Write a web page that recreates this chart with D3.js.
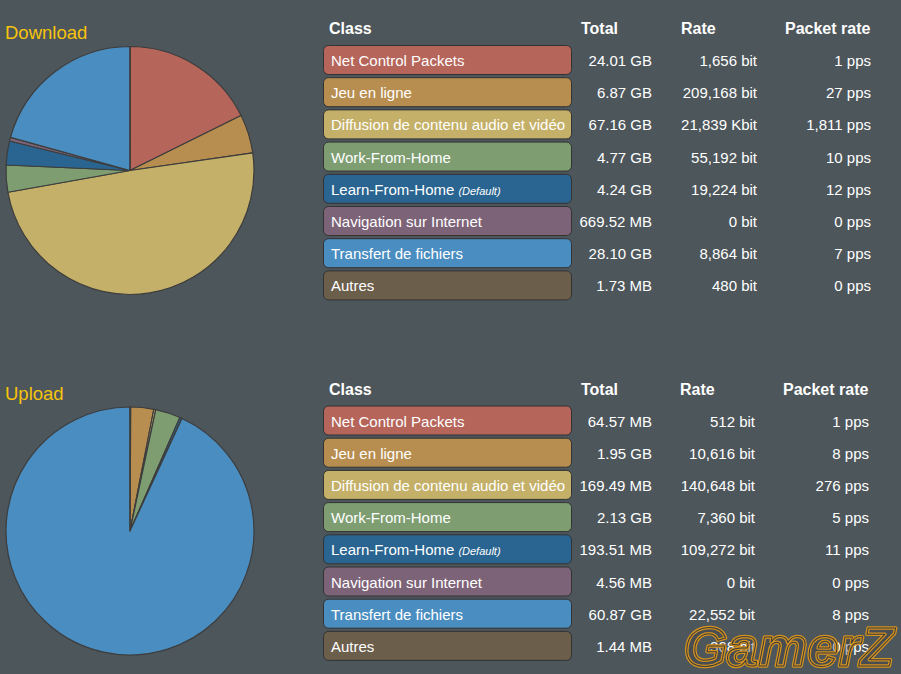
<!DOCTYPE html>
<html><head><meta charset="utf-8">
<script src="https://cdn.jsdelivr.net/npm/d3@7"></script>
<style>html,body{margin:0;padding:0;background:#4d565b;overflow:hidden}svg{display:block;font-family:"Liberation Sans",Arial,sans-serif}</style>
</head><body>
<script>
const classes = ["Net Control Packets","Jeu en ligne","Diffusion de contenu audio et vidéo","Work-From-Home","Learn-From-Home","Navigation sur Internet","Transfert de fichiers","Autres"];
const colors = ["#b5655a","#b88e50","#c4b068","#7e9e72","#2a6591","#7d6378","#4a8dc0","#6b5e4b"];
const defaultClass = "Learn-From-Home";
const headers = ["Class","Total","Rate","Packet rate"];

const downloadTotal = ["24.01 GB","6.87 GB","67.16 GB","4.77 GB","4.24 GB","669.52 MB","28.10 GB","1.73 MB"];
const downloadRate = ["1,656 bit","209,168 bit","21,839 Kbit","55,192 bit","19,224 bit","0 bit","8,864 bit","480 bit"];
const downloadPps = ["1 pps","27 pps","1,811 pps","10 pps","12 pps","0 pps","7 pps","0 pps"];

const uploadTotal = ["64.57 MB","1.95 GB","169.49 MB","2.13 GB","193.51 MB","4.56 MB","60.87 GB","1.44 MB"];
const uploadRate = ["512 bit","10,616 bit","140,648 bit","7,360 bit","109,272 bit","0 bit","22,552 bit","368 bit"];
const uploadPps = ["1 pps","8 pps","276 pps","5 pps","11 pps","0 pps","8 pps","0 pps"];

const unitMul = {KB:1/1048576, MB:1/1024, GB:1, TB:1024};
function toGB(s){const [n,u]=s.split(" ");return parseFloat(n.replace(/,/g,""))*unitMul[u];}

const W=901,H=674;
const svg=d3.select("body").append("svg").attr("width",W).attr("height",H);
svg.append("rect").attr("width",W).attr("height",H).attr("fill","#4d565b");

const sections=[
 {title:"Download", off:0, total:downloadTotal, rate:downloadRate, pps:downloadPps, cols:[329,581,681,785], ends:[652,757,871]},
 {title:"Upload", off:360.5, total:uploadTotal, rate:uploadRate, pps:uploadPps, cols:[329,581,680,783], ends:[652,755,869]}
];

const rowY=d3.scaleLinear().domain([0,1]).range([45,77.2]);

sections.forEach(sec=>{
  const g=svg.append("g").attr("transform",`translate(0,${sec.off})`);
  g.append("text").attr("x",5).attr("y",39).attr("fill","#f7c40a").attr("font-size",18.5).text(sec.title);

  const data=classes.map((c,i)=>({name:c,color:colors[i],v:toGB(sec.total[i]),total:sec.total[i],rate:sec.rate[i],pps:sec.pps[i],i}));
  const pie=d3.pie().sort(null).value(d=>d.v);
  const arc=d3.arc().innerRadius(0).outerRadius(124);
  const pg=g.append("g").attr("transform","translate(130,170.5)");
  pg.selectAll("path").data(pie(data)).join("path")
    .attr("d",arc).attr("fill",d=>d.data.color).attr("stroke","#3d3d3d").attr("stroke-width",1.2).attr("stroke-linejoin","round");

  g.selectAll("text.h").data(headers).join("text").attr("class","h")
    .attr("x",(d,i)=>sec.cols[i]).attr("y",34).attr("fill","#fff").attr("font-weight","bold").attr("font-size",16).text(d=>d);

  const rows=g.selectAll("g.row").data(data).join("g").attr("class","row")
    .attr("transform",d=>`translate(0,${rowY(d.i)})`);
  rows.append("rect").attr("x",323.5).attr("y",0.5).attr("width",248).attr("height",29).attr("rx",5)
    .attr("fill",d=>d.color).attr("stroke","#333").attr("stroke-width",1);
  const lab=rows.append("text").attr("x",331).attr("y",21).attr("fill","#fff").attr("font-size",15);
  lab.append("tspan").text(d=>d.name);
  lab.filter(d=>d.name===defaultClass).append("tspan").attr("font-size",11).attr("font-style","italic").attr("dx",4).text("(Default)");
  const fields=["total","rate","pps"];
  fields.forEach((f,k)=>{
    rows.append("text").attr("x",sec.ends[k]).attr("y",21).attr("text-anchor","end").attr("fill","#fff").attr("font-size",15).text(d=>d[f]);
  });
});

// watermark
const wm=svg.append("g");
[["rgba(60,60,60,0.35)","#d4921f",3.5],["none","#3a3a3a",1]].forEach(([fill,stroke,sw])=>{
  wm.append("text").attr("x",684).attr("y",666).attr("font-size",55).attr("font-weight","bold").attr("font-style","italic")
    .attr("textLength",210).attr("lengthAdjust","spacingAndGlyphs")
    .attr("fill",fill).attr("stroke",stroke).attr("stroke-width",sw).attr("stroke-linejoin","round").text("GamerZ");
});
</script>
</body></html>
